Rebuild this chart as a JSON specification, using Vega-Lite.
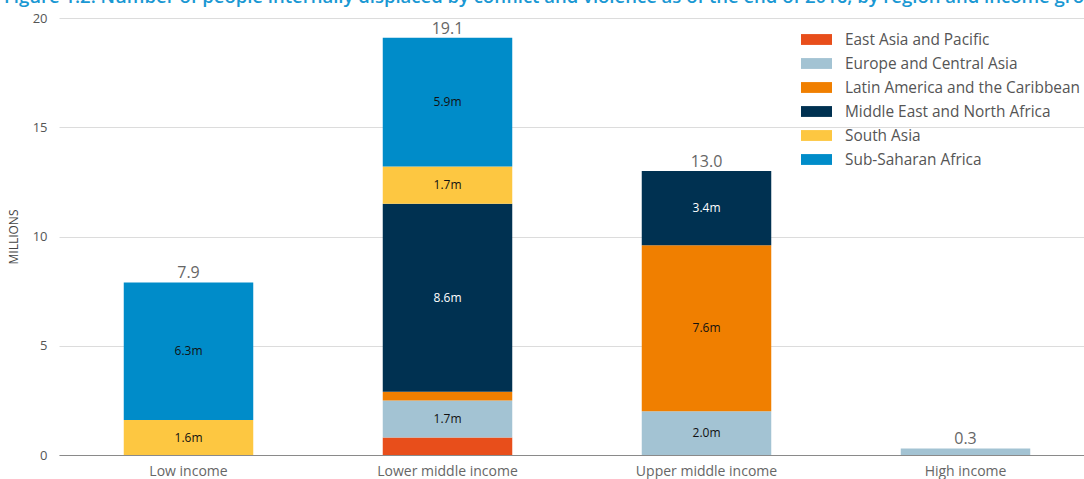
{
  "$schema": "https://vega.github.io/schema/vega-lite/v6.json",
  "autosize": "none",
  "width": 1036,
  "height": 437,
  "padding": {"left": 59, "top": 18, "right": 0, "bottom": 24},
  "background": "white",
  "config": {
    "font": "Open Sans",
    "view": {"stroke": null},
    "axis": {"labelFont": "Open Sans", "titleFont": "Open Sans"}
  },
  "title": {
    "text": "Figure 1.2: Number of people internally displaced by conflict and violence as of the end of 2016, by region and income group",
    "anchor": "start",
    "frame": "group",
    "baseline": "alphabetic",
    "offset": 0,
    "dx": -55,
    "dy": 9,
    "fontSize": 18.5,
    "fontWeight": 600,
    "color": "#1a98d3",
    "font": "Open Sans"
  },
  "data": {
    "values": [
      {"income": "Low income", "region": "South Asia", "value": 1.6, "label": "1.6m"},
      {"income": "Low income", "region": "Sub-Saharan Africa", "value": 6.3, "label": "6.3m"},
      {"income": "Lower middle income", "region": "East Asia and Pacific", "value": 0.8, "label": ""},
      {"income": "Lower middle income", "region": "Europe and Central Asia", "value": 1.7, "label": "1.7m"},
      {"income": "Lower middle income", "region": "Latin America and the Caribbean", "value": 0.4, "label": ""},
      {"income": "Lower middle income", "region": "Middle East and North Africa", "value": 8.6, "label": "8.6m"},
      {"income": "Lower middle income", "region": "South Asia", "value": 1.7, "label": "1.7m"},
      {"income": "Lower middle income", "region": "Sub-Saharan Africa", "value": 5.9, "label": "5.9m"},
      {"income": "Upper middle income", "region": "Europe and Central Asia", "value": 2.0, "label": "2.0m"},
      {"income": "Upper middle income", "region": "Latin America and the Caribbean", "value": 7.6, "label": "7.6m"},
      {"income": "Upper middle income", "region": "Middle East and North Africa", "value": 3.4, "label": "3.4m"},
      {"income": "High income", "region": "Europe and Central Asia", "value": 0.3, "label": ""}
    ]
  },
  "transform": [
    {"stack": "value", "groupby": ["income"], "sort": [{"field": "region", "order": "ascending"}], "as": ["v0", "v1"]},
    {"calculate": "(datum.v0 + datum.v1) / 2", "as": "vmid"}
  ],
  "encoding": {
    "x": {
      "field": "income",
      "type": "nominal",
      "sort": ["Low income", "Lower middle income", "Upper middle income", "High income"],
      "scale": {"paddingInner": 0.5, "paddingOuter": 0.25},
      "axis": {
        "title": null,
        "labelAngle": 0,
        "labelFontSize": 14,
        "labelColor": "#666666",
        "labelPadding": 9,
        "ticks": false,
        "domain": true,
        "domainColor": "#8a8a8a",
        "domainWidth": 1,
        "grid": false,
        "zindex": 1
      }
    }
  },
  "layer": [
    {
      "mark": {"type": "bar"},
      "encoding": {
        "y": {
          "field": "v0",
          "type": "quantitative",
          "scale": {"domain": [0, 20]},
          "axis": {
            "title": "MILLIONS",
            "titleFontSize": 12,
            "titleFontWeight": "normal",
            "titleColor": "#444444",
            "titlePadding": 12,
            "values": [0, 5, 10, 15, 20],
            "labelFontSize": 13,
            "labelColor": "#555555",
            "labelPadding": 12,
            "ticks": false,
            "domain": false,
            "grid": true,
            "gridColor": "#dcdcdc",
            "gridWidth": 1
          }
        },
        "y2": {"field": "v1"},
        "color": {
          "field": "region",
          "type": "nominal",
          "scale": {
            "domain": ["East Asia and Pacific", "Europe and Central Asia", "Latin America and the Caribbean", "Middle East and North Africa", "South Asia", "Sub-Saharan Africa"],
            "range": ["#e84e1b", "#a3c3d3", "#f07f00", "#003151", "#fdc741", "#008cc9"]
          },
          "legend": {
            "title": null,
            "orient": "none",
            "legendX": 742,
            "legendY": 6,
            "padding": 0,
            "symbolType": "M-1,-0.35h2v0.7h-2z",
            "symbolSize": 961,
            "symbolStrokeWidth": 0,
            "symbolOpacity": 1,
            "labelFontSize": 15.4,
            "labelColor": "#555555",
            "labelFont": "Open Sans",
            "labelOffset": 13,
            "rowPadding": -2.2,
            "labelLimit": 400
          }
        }
      }
    },
    {
      "transform": [{"filter": "datum.label != ''"}],
      "mark": {"type": "text", "fontSize": 12, "baseline": "middle"},
      "encoding": {
        "y": {"field": "vmid", "type": "quantitative"},
        "text": {"field": "label"},
        "color": {
          "condition": {"test": "datum.region === 'Middle East and North Africa'", "value": "#ffffff"},
          "value": "#111111"
        }
      }
    },
    {
      "mark": {"type": "text", "fontSize": 16, "baseline": "bottom", "dy": -1, "color": "#666666"},
      "encoding": {
        "y": {"aggregate": "sum", "field": "value", "type": "quantitative"},
        "text": {"aggregate": "sum", "field": "value", "type": "quantitative", "format": ".1f"}
      }
    }
  ]
}
